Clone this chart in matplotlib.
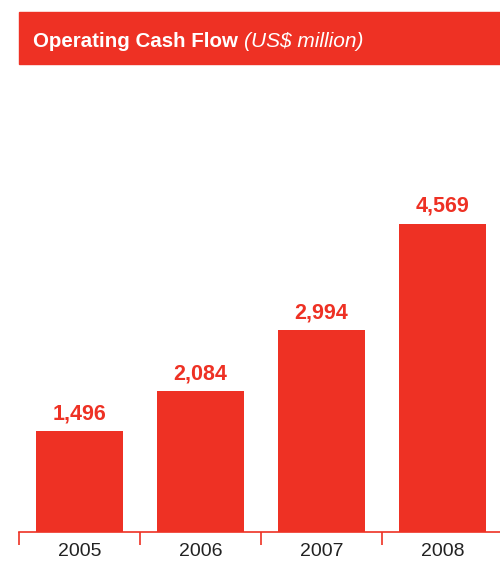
import matplotlib
matplotlib.use("Agg")
import matplotlib.pyplot as plt
from matplotlib.patches import Rectangle

# operating cash flow by year, US$ million
years = ["2005", "2006", "2007", "2008"]
cash_flow = [1496, 2084, 2994, 4569]

red = "#EE3124"
plt.rcParams["font.family"] = ["Liberation Sans", "DejaVu Sans"]

fig = plt.figure(figsize=(5.0, 5.63), dpi=100)
W, H = 500, 563

# axes placed in pixel terms: baseline at y=532, plot spans x=19..503
ax = fig.add_axes([19 / W, 1 - 532 / H, 484 / W, (532 - 80) / H])

x = range(len(years))
bars = ax.bar(x, cash_flow, width=0.72, color=red, zorder=2)
ax.bar_label(bars, labels=[f"{v:,}" for v in cash_flow], padding=5,
             color=red, fontsize=15.5, fontweight="bold")

ax.set_xlim(-0.5, len(years) - 0.5)
ax.set_ylim(0, 6700)

for s in ["top", "right", "left"]:
    ax.spines[s].set_visible(False)
ax.spines["bottom"].set_color(red)
ax.spines["bottom"].set_linewidth(1.2)
ax.set_yticks([])

ax.set_xticks(list(x))
ax.set_xticklabels(years, fontsize=14, color="#222222")
ax.tick_params(axis="x", which="major", length=0, pad=8)
ax.set_xticks([i - 0.5 for i in range(len(years) + 1)], minor=True)
ax.tick_params(axis="x", which="minor", length=9, width=1.2, color=red, direction="out")

# title banner
fig.patches.append(Rectangle((19 / W, 1 - 64 / H), 1 - 19 / W, 52 / H,
                             transform=fig.transFigure, color=red, zorder=0))
t1 = fig.text(33 / W, 1 - 47 / H, "Operating Cash Flow", color="white",
              fontsize=14.8, fontweight="bold", va="baseline")
fig.canvas.draw()
bb = t1.get_window_extent()
fig.text(bb.x1 / W + 6 / W, 1 - 47 / H, "(US$ million)", color="white",
         fontsize=15, fontstyle="italic", va="baseline")

fig.savefig("out.png", dpi=100)
